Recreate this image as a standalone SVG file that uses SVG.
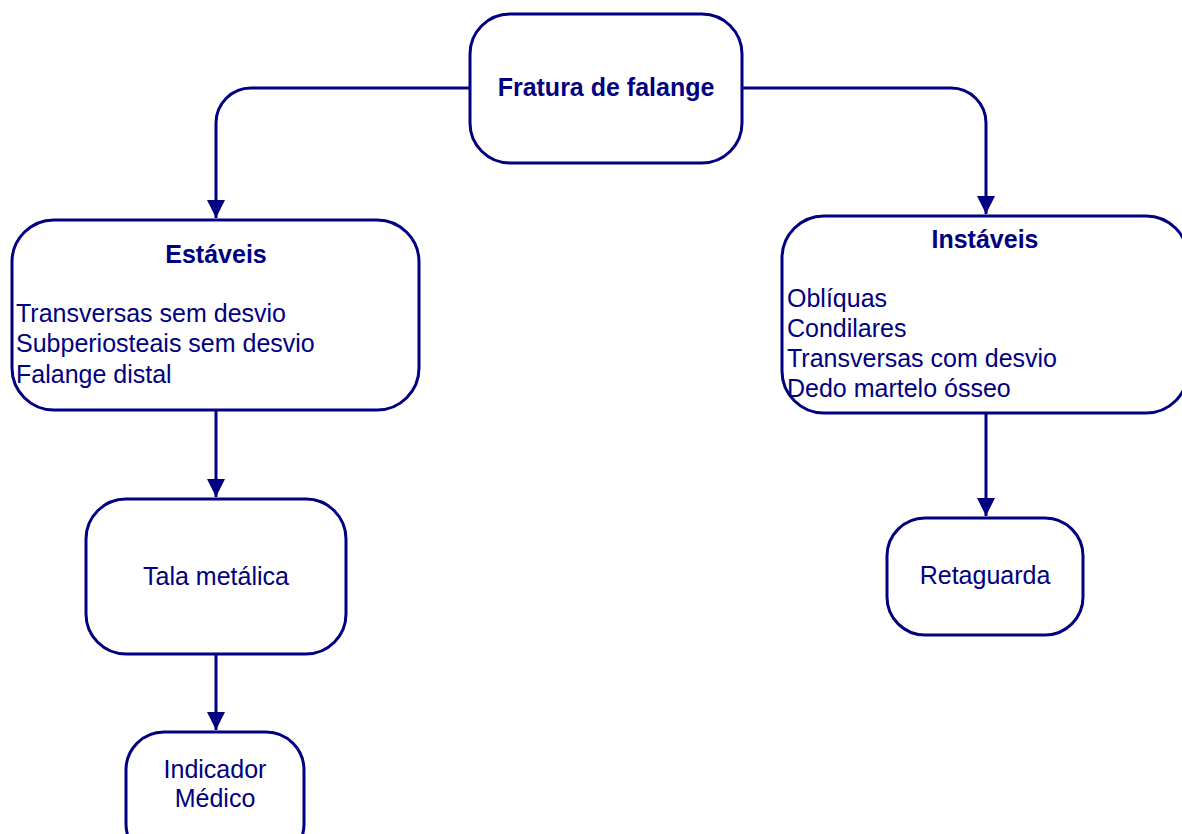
<svg xmlns="http://www.w3.org/2000/svg" width="1182" height="834" viewBox="0 0 1182 834">
<style>
.box{fill:#fff;stroke:#000080;stroke-width:3}
.con{fill:none;stroke:#000080;stroke-width:3}
text{font-family:"Liberation Sans",Arial,sans-serif;fill:#000080;font-size:25px}
.b{font-weight:bold}
.c{text-anchor:middle}
</style>
<defs>
<marker id="arr" markerWidth="20" markerHeight="20" refX="18" refY="9" orient="auto" markerUnits="userSpaceOnUse">
<path d="M0,0 L18,9 L0,18 Z" fill="#000080"/>
</marker>
</defs>
<rect width="1182" height="834" fill="#fff"/>
<g id="connectors">
<path class="con" d="M470,88 H251 A35,35 0 0 0 216,123 V218" marker-end="url(#arr)"/>
<path class="con" d="M742,88 H951 A35,35 0 0 1 986,123 V214" marker-end="url(#arr)"/>
<path class="con" d="M216,411 V497" marker-end="url(#arr)"/>
<path class="con" d="M216,655 V730" marker-end="url(#arr)"/>
<path class="con" d="M986,414 V516" marker-end="url(#arr)"/>
</g>
<g id="n-fratura">
<rect class="box" x="470" y="14" width="272" height="149" rx="40"/>
<text class="b c" x="606" y="96">Fratura de falange</text>
</g>
<g id="n-estaveis">
<rect class="box" x="12" y="220" width="407" height="190" rx="42"/>
<text class="b c" x="216" y="263">Estáveis</text>
<text x="16" y="322">Transversas sem desvio</text>
<text x="16" y="352">Subperiosteais sem desvio</text>
<text x="16" y="383">Falange distal</text>
</g>
<g id="n-instaveis">
<rect class="box" x="782" y="216" width="406" height="197" rx="42"/>
<text class="b c" x="985" y="248">Instáveis</text>
<text x="787" y="307">Oblíquas</text>
<text x="787" y="337">Condilares</text>
<text x="787" y="367">Transversas com desvio</text>
<text x="787" y="397">Dedo martelo ósseo</text>
</g>
<g id="n-tala">
<rect class="box" x="86" y="499" width="260" height="155" rx="40"/>
<text class="c" x="216" y="585">Tala metálica</text>
</g>
<g id="n-indicador">
<rect class="box" x="126" y="732" width="178" height="130" rx="38"/>
<text class="c" x="215" y="778">Indicador</text>
<text class="c" x="215" y="807">Médico</text>
</g>
<g id="n-retaguarda">
<rect class="box" x="887" y="518" width="196" height="117" rx="38"/>
<text class="c" x="985" y="584">Retaguarda</text>
</g>
</svg>
